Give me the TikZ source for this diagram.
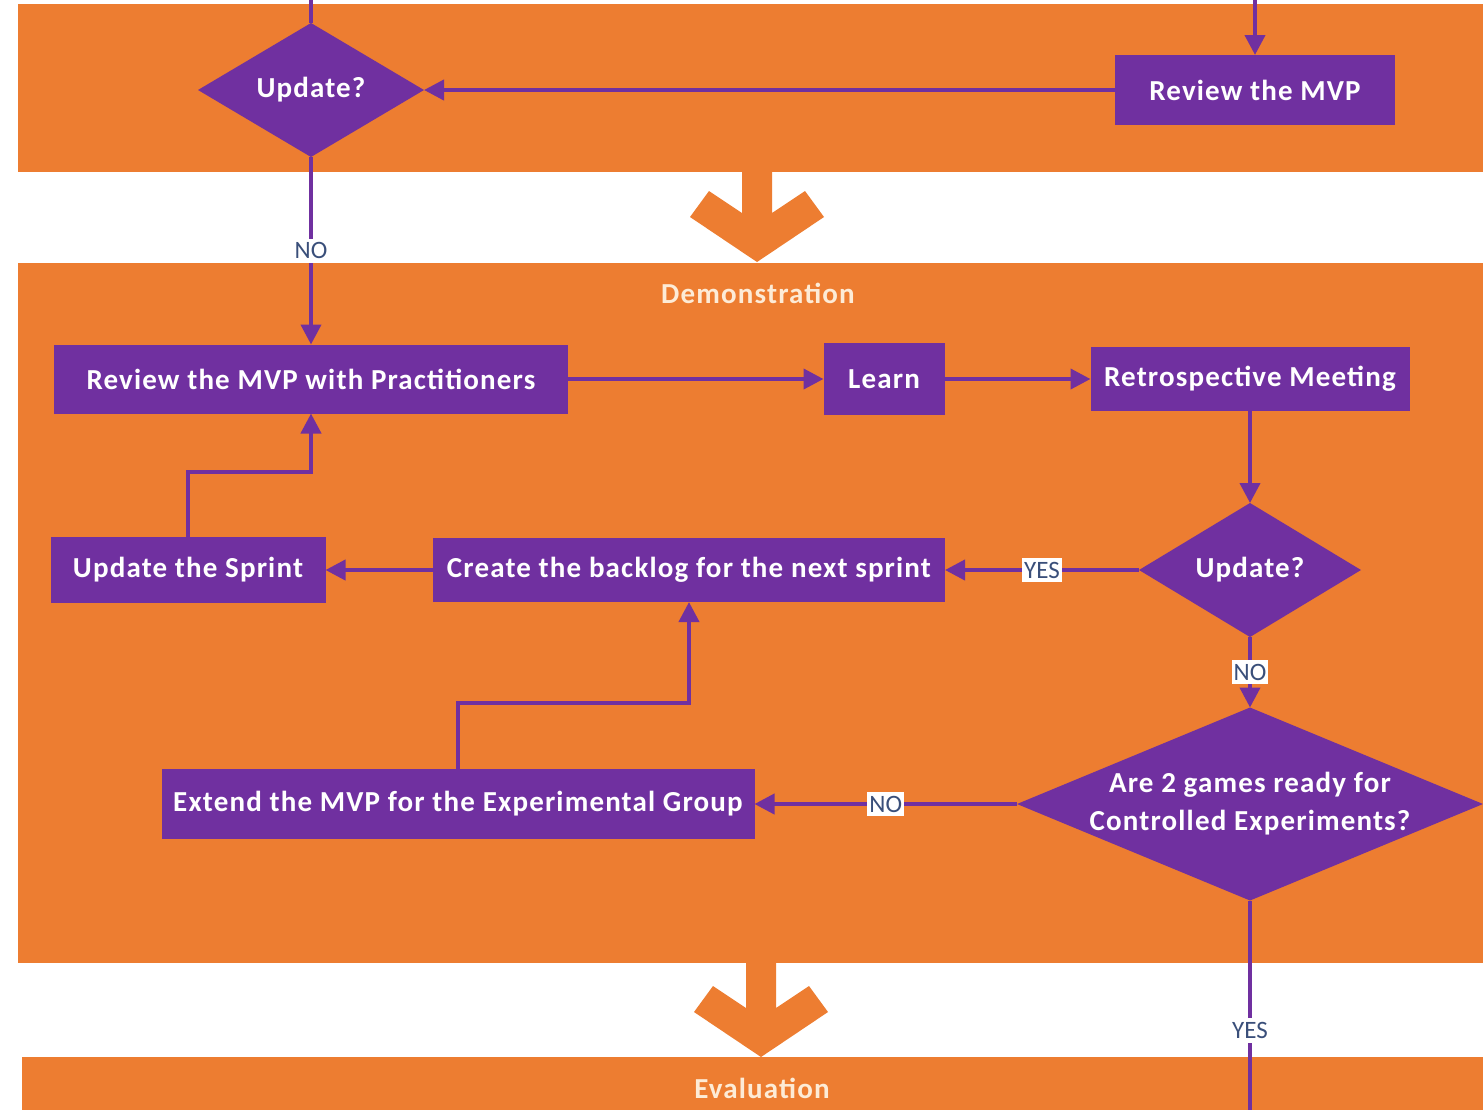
\documentclass[tikz,border=0pt]{standalone}
\usepackage{fontspec}
\setmainfont{Carlito}
\newfontfamily\boxfont[LetterSpace=4]{Carlito}
\usetikzlibrary{shapes.geometric,arrows.meta}
\definecolor{bandorange}{HTML}{ED7D31}
\definecolor{boxpurple}{HTML}{7030A0}
\definecolor{bandtext}{HTML}{FDEBD6}
\definecolor{lbltext}{HTML}{3A4F7A}
\tikzset{
  stepbox/.style={rectangle, fill=boxpurple, text=white, inner sep=0pt, outer sep=0pt,
    font=\boxfont\fontsize{14.5}{17}\selectfont\bfseries},
  decision/.style={diamond, fill=boxpurple, text=white, inner sep=0pt, outer sep=0pt,
    align=center, font=\boxfont\fontsize{14.5}{19}\selectfont\bfseries},
  flow/.style={draw=boxpurple, line width=2pt, -{Triangle[length=10pt,width=10pt]}},
  plainflow/.style={draw=boxpurple, line width=2pt},
  lbl/.style={fill=white, text=lbltext, inner xsep=1pt, inner ysep=2pt, font=\fontsize{12.5}{13}\selectfont},
  bandtitle/.style={text=bandtext, font=\boxfont\fontsize{14.5}{17}\selectfont\bfseries}
}
\begin{document}
\begin{tikzpicture}[x=0.5pt, y=-0.5pt]
    \useasboundingbox (0,0) rectangle (1483,1110);
    % bands
    \fill[white] (0,0) rectangle (1483,1110);
    \fill[bandorange] (18,4) rectangle (1483,172);
    \fill[bandorange] (18,263) rectangle (1483,963);
    \fill[bandorange] (22,1057) rectangle (1483,1110);
    \foreach \cx/\yb/\yt in {757/171/262, 761/962/1057}
        \fill[bandorange] ({\cx-15},\yb) -- ({\cx-15},{\yt-49}) -- ({\cx-48},{\yt-71})
            -- ({\cx-67},{\yt-45}) -- (\cx,\yt) -- ({\cx+67},{\yt-45})
            -- ({\cx+48},{\yt-71}) -- ({\cx+15},{\yt-49}) -- ({\cx+15},\yb) -- cycle;
    \node[bandtitle] (demo) at (758,293) {Demonstration};
    \node[bandtitle] (eval) at (762,1088) {Evaluation};

    % nodes
    \node[decision, minimum width=113pt, minimum height=67pt] (upd1) at (311,90) {Update?};
    \node[stepbox, minimum width=140pt, minimum height=35pt] (rev) at (1255,90) {Review the MVP};
    \node[stepbox, minimum width=257pt, minimum height=34.5pt] (revp) at (311,379) {Review the MVP with Practitioners};
    \node[stepbox, minimum width=60.5pt, minimum height=36pt] (learn) at (884,379) {Learn};
    \node[stepbox, minimum width=159.5pt, minimum height=32pt] (retro) at (1250,379) {Retrospective Meeting};
    \node[decision, minimum width=111pt, minimum height=67pt] (upd2) at (1250,570) {Update?};
    \node[stepbox, minimum width=256pt, minimum height=32pt] (backlog) at (689,570) {Create the backlog for the next sprint};
    \node[stepbox, minimum width=137.5pt, minimum height=33pt] (sprint) at (188,570) {Update the Sprint};
    \node[decision, aspect=2.4, minimum width=233pt, minimum height=96.5pt, inner xsep=-40pt] (ctrl) at (1250,804)
        {Are 2 games ready for\\Controlled Experiments?};
    \node[stepbox, minimum width=296.5pt, minimum height=35pt] (extend) at (458,804) {Extend the MVP for the Experimental Group};
    \coordinate (in1) at (311,0);
    \coordinate (in2) at (1255,0);
    \coordinate (out) at (1250,1110);

    % connectors
    \draw[plainflow] (in1) -- (upd1.north);
    \draw[flow] (in2) -- (rev.north);
    \draw[flow] (rev.west) -- (upd1.east);
    \draw[flow] (upd1.south) -- node[lbl] (no1) {NO} (revp.north);
    \draw[flow] (revp.east) -- (learn.west);
    \draw[flow] (learn.east) -- (retro.west);
    \draw[flow] (retro.south) -- (upd2.north);
    \draw[flow] (upd2.west) -- node[lbl] (yes1) {YES} (backlog.east);
    \draw[flow] (backlog.west) -- (sprint.east);
    \draw[flow] (sprint.north) -- ++(0,-65) -| (revp.south);
    \draw[flow] (upd2.south) -- node[lbl] (no2) {NO} (ctrl.north);
    \draw[flow] (ctrl.west) -- node[lbl] (no3) {NO} (extend.east);
    \draw[flow] (extend.north) -- ++(0,-66) -| (backlog.south);
    \draw[plainflow] (ctrl.south) -- node[lbl, pos=0.62] (yes2) {YES} (out);
\end{tikzpicture}
\end{document}
